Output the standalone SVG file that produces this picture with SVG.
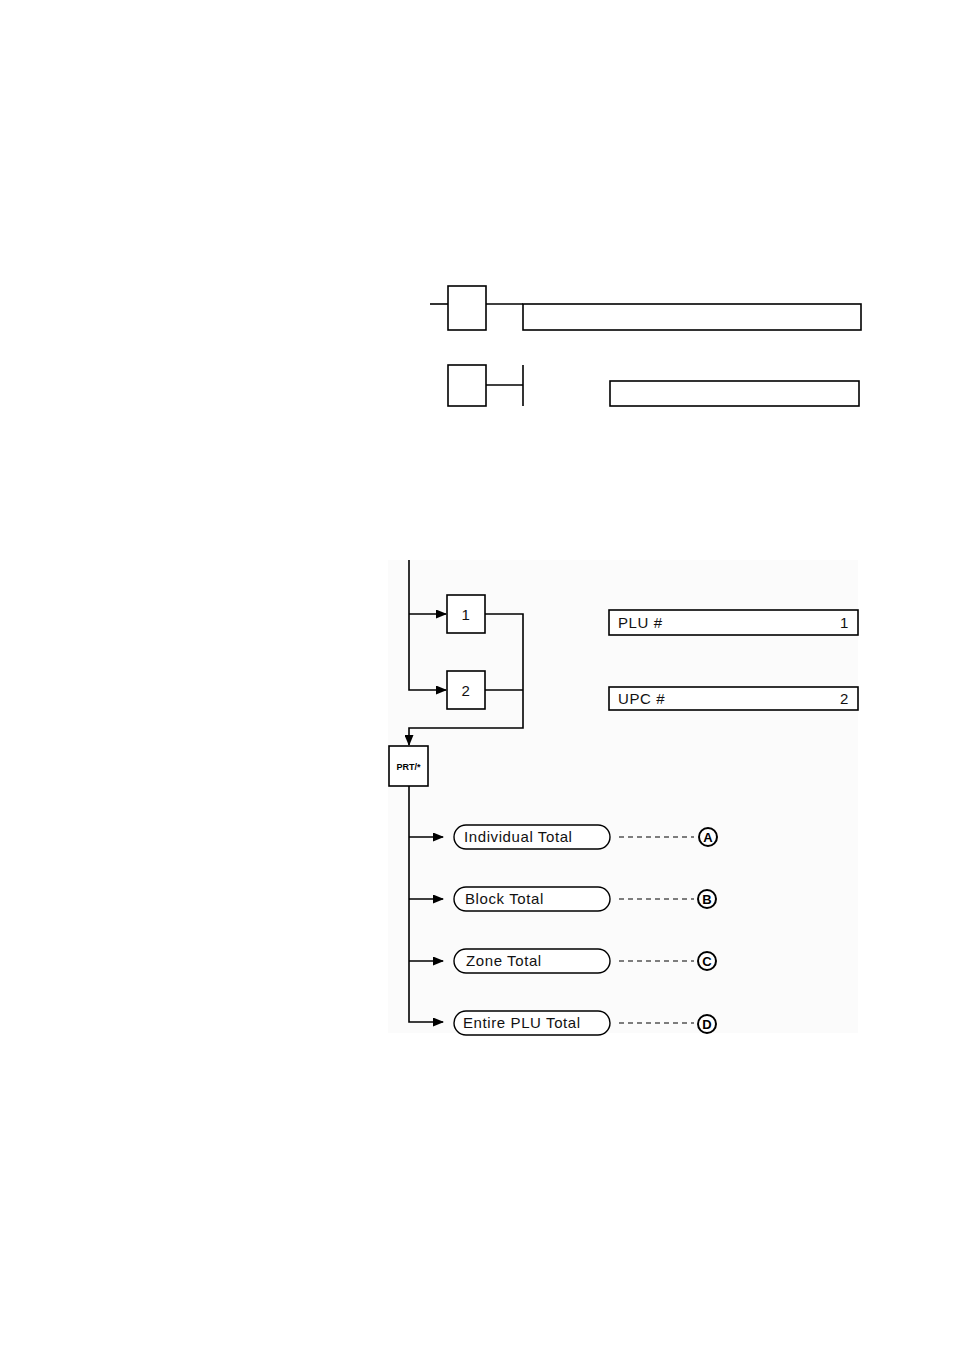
<svg xmlns="http://www.w3.org/2000/svg" width="954" height="1350" viewBox="0 0 954 1350">
<style>
.ln{fill:none;stroke:#000;stroke-width:1.6}
.box{fill:#fff;stroke:#000;stroke-width:1.6}
.pill{fill:#fff;stroke:#000;stroke-width:1.4}
.t{font-family:"Liberation Sans",Arial,sans-serif;font-size:15px;letter-spacing:0.6px;fill:#111}
.dash{fill:none;stroke:#000;stroke-width:1.2;stroke-dasharray:5,4}
.c{fill:#fff;stroke:#000;stroke-width:2}
.cl{font-family:"Liberation Sans",Arial,sans-serif;font-size:13px;font-weight:bold;text-anchor:middle;fill:#000}
</style>
<defs>
<marker id="ah" markerWidth="11" markerHeight="9" refX="10" refY="4.5" orient="auto" markerUnits="userSpaceOnUse">
<path d="M0,0 L11,4.5 L0,9 z" fill="#000"/>
</marker>
</defs>
<rect width="954" height="1350" fill="#fff"/>
<rect x="388" y="560" width="470" height="473" fill="#fbfbfb"/>

<g id="connectors">
<path class="ln" d="M430,304 H448"/>
<path class="ln" d="M486,304 H523"/>
<path class="ln" d="M486,385 H523"/>
<path class="ln" d="M523,365 V406"/>
<path class="ln" d="M409,560 V690 H446" marker-end="url(#ah)"/>
<path class="ln" d="M409,614 H446" marker-end="url(#ah)"/>
<path class="ln" d="M485,614 H523 V728 H409 V745" marker-end="url(#ah)"/>
<path class="ln" d="M485,690 H523"/>
<path class="ln" d="M409,786 V1022 H443" marker-end="url(#ah)"/>
<path class="ln" d="M409,837 H443" marker-end="url(#ah)"/>
<path class="ln" d="M409,899 H443" marker-end="url(#ah)"/>
<path class="ln" d="M409,961 H443" marker-end="url(#ah)"/>
<path class="dash" d="M619,837 H694"/>
<path class="dash" d="M619,899 H694"/>
<path class="dash" d="M619,961 H694"/>
<path class="dash" d="M619,1023 H694"/>
</g>

<g id="key-top1"><rect class="box" x="448" y="286" width="38" height="44"/></g>
<g id="display-top1"><rect class="box" x="523" y="304" width="338" height="26"/></g>
<g id="key-top2"><rect class="box" x="448" y="365" width="38" height="41"/></g>
<g id="display-top2"><rect class="box" x="610" y="381" width="249" height="25"/></g>

<g id="key-1"><rect class="box" x="447" y="595" width="38" height="38"/><text class="t" x="466" y="620" text-anchor="middle">1</text></g>
<g id="key-2"><rect class="box" x="447" y="671" width="38" height="38"/><text class="t" x="466" y="696" text-anchor="middle">2</text></g>
<g id="display-plu"><rect class="box" x="609" y="610" width="249" height="25"/><text class="t" x="618" y="628">PLU #</text><text class="t" x="849" y="628" text-anchor="end">1</text></g>
<g id="display-upc"><rect class="box" x="609" y="687" width="249" height="23"/><text class="t" x="618" y="704">UPC #</text><text class="t" x="849" y="704" text-anchor="end">2</text></g>
<g id="key-prt"><rect class="box" x="389" y="746" width="39" height="40"/><text x="408.5" y="770" text-anchor="middle" style="font-family:'Liberation Sans',Arial,sans-serif;font-size:9px;font-weight:bold">PRT/*</text></g>

<g id="individual-total"><rect class="pill" x="454" y="825" width="156" height="24" rx="12"/><text class="t" x="464" y="842">Individual Total</text></g>
<g id="mark-a"><circle class="c" cx="708" cy="837" r="9"/><text class="cl" x="708" y="842">A</text></g>
<g id="block-total"><rect class="pill" x="454" y="887" width="156" height="24" rx="12"/><text class="t" x="465" y="904">Block Total</text></g>
<g id="mark-b"><circle class="c" cx="707" cy="899" r="9"/><text class="cl" x="707" y="904">B</text></g>
<g id="zone-total"><rect class="pill" x="454" y="949" width="156" height="24" rx="12"/><text class="t" x="466" y="966">Zone Total</text></g>
<g id="mark-c"><circle class="c" cx="707" cy="961" r="9"/><text class="cl" x="707" y="966">C</text></g>
<g id="entire-plu-total"><rect class="pill" x="454" y="1011" width="156" height="24" rx="12"/><text class="t" x="463" y="1028">Entire PLU Total</text></g>
<g id="mark-d"><circle class="c" cx="707" cy="1024" r="9"/><text class="cl" x="707" y="1029">D</text></g>
</svg>
